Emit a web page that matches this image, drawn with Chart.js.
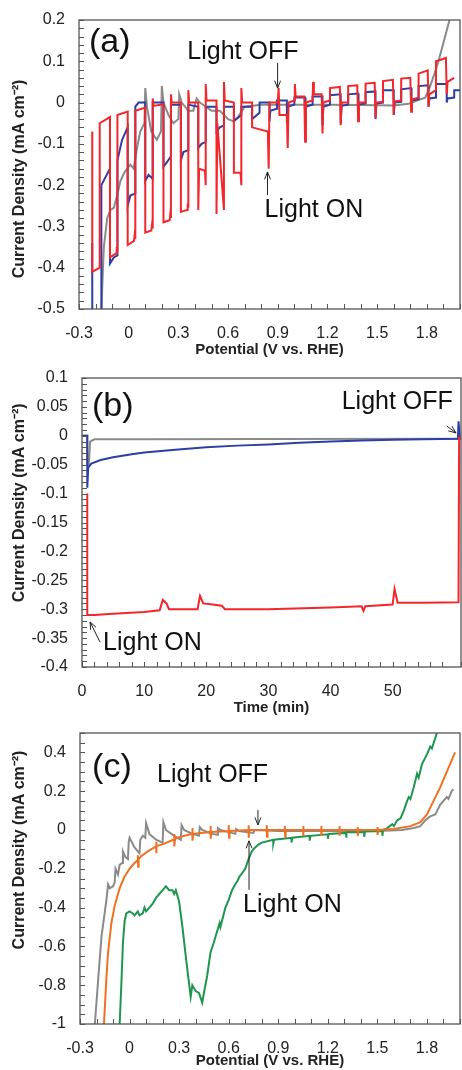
<!DOCTYPE html>
<html>
<head>
<meta charset="utf-8">
<script src="https://cdn.jsdelivr.net/npm/chart.js@4.4.0/dist/chart.umd.min.js"></script>
<style>
  body { margin: 0; background: #fff; width: 462px; height: 1070px; position: relative; overflow: hidden; }
  canvas { position: absolute; left: 0; }
</style>
</head>
<body>
<canvas id="chartA" width="462" height="359" style="top:0px"></canvas>
<canvas id="chartB" width="462" height="358" style="top:359px"></canvas>
<canvas id="chartC" width="462" height="352" style="top:718px"></canvas>
<script>
// ---- panel (a): chopped LSV, potential (V vs RHE) vs current density
var redA = [[-0.22,-0.07],[-0.22,-0.41],[-0.175,-0.40],[-0.175,-0.05],[-0.113,-0.035],
  [-0.113,-0.375],[-0.075,-0.365],[-0.072,-0.35],[-0.068,-0.36],[-0.068,-0.03],[-0.006,-0.022],
  [-0.006,-0.345],[0.032,-0.335],[0.036,-0.32],[0.04,-0.33],[0.04,-0.02],[0.10,-0.012],
  [0.10,-0.315],[0.137,-0.31],[0.141,-0.295],[0.145,-0.305],[0.145,0.01],[0.15,-0.008],[0.21,-0.004],
  [0.21,-0.29],[0.247,-0.285],[0.251,-0.27],[0.255,-0.28],[0.255,0.02],[0.26,0.0],[0.315,0.0],
  [0.315,-0.265],[0.352,-0.26],[0.356,-0.245],[0.36,-0.255],[0.36,0.03],[0.365,0.0],[0.42,0.0],
  [0.42,-0.26],[0.425,-0.16],[0.46,-0.165],[0.465,-0.2],[0.465,0.045],[0.47,0.005],[0.53,0.005],
  [0.53,-0.27],[0.535,-0.05],[0.575,-0.26],[0.575,0.05],[0.58,0.005],[0.635,0.0],
  [0.635,-0.17],[0.675,-0.17],[0.68,-0.2],[0.68,0.035],[0.685,0.0],[0.745,0.0],
  [0.745,-0.06],[0.84,-0.07],[0.845,-0.16],[0.85,0.0],[0.9,0.0],[0.905,0.035],[0.91,-0.03],[0.955,-0.03],
  [0.96,-0.11],[0.965,0.0],[1.0,0.005],[1.003,0.045],[1.008,0.015],[1.06,0.015],[1.065,-0.095],[1.07,0.0],
  [1.11,0.005],[1.113,0.05],[1.118,0.02],[1.165,0.02],[1.17,-0.075],[1.175,0.0],[1.215,0.005],[1.215,0.035],
  [1.275,0.038],[1.28,-0.055],[1.285,0.0],[1.325,0.0],[1.325,0.04],[1.38,0.042],[1.385,-0.045],[1.39,0.0],
  [1.43,0.0],[1.43,0.046],[1.485,0.048],[1.49,-0.037],[1.495,0.0],[1.535,0.002],[1.535,0.052],[1.595,0.055],
  [1.6,-0.03],[1.605,0.003],[1.645,0.005],[1.645,0.058],[1.7,0.06],[1.705,-0.022],[1.71,0.008],[1.75,0.012],
  [1.75,0.07],[1.805,0.078],[1.81,-0.01],[1.815,0.02],[1.855,0.03],[1.855,0.1],[1.915,0.108],[1.92,0.02],
  [1.925,0.05],[1.965,0.06]];
var blueA = [[-0.22,-0.34],[-0.22,-0.6],[-0.165,-0.6],[-0.165,-0.2],[-0.113,-0.16],
  [-0.113,-0.39],[-0.09,-0.375],[-0.068,-0.37],[-0.068,-0.14],[-0.04,-0.09],[-0.006,-0.06],
  [-0.006,-0.25],[0.01,-0.225],[0.04,-0.22],[0.04,-0.01],[0.06,0.0],[0.10,0.0],
  [0.10,-0.19],[0.12,-0.175],[0.145,-0.185],[0.145,0.0],[0.21,0.0],
  [0.21,-0.155],[0.23,-0.145],[0.255,-0.13],[0.255,-0.005],[0.315,-0.005],
  [0.315,-0.14],[0.33,-0.12],[0.36,-0.115],[0.36,-0.005],[0.42,-0.01],
  [0.42,-0.11],[0.44,-0.1],[0.465,-0.095],[0.465,-0.01],[0.53,-0.01],
  [0.53,-0.07],[0.55,-0.06],[0.575,-0.055],[0.575,-0.01],[0.635,-0.01],
  [0.635,-0.045],[0.68,-0.03],[0.68,-0.01],[0.745,-0.01],
  [0.745,-0.04],[0.79,-0.025],[0.79,0.0],[0.85,0.0],[0.85,-0.045],[0.855,-0.02],[0.895,-0.015],[0.895,0.005],
  [0.955,0.005],[0.955,-0.05],[0.96,-0.01],[1.0,-0.005],[1.0,0.012],[1.065,0.012],[1.065,-0.05],[1.07,-0.01],
  [1.11,-0.005],[1.11,0.015],[1.17,0.015],[1.17,-0.055],[1.175,-0.01],[1.215,-0.005],[1.215,0.018],[1.28,0.02],
  [1.28,-0.05],[1.285,-0.008],[1.325,-0.005],[1.325,0.02],[1.385,0.022],[1.385,-0.045],[1.39,-0.005],[1.43,-0.002],
  [1.43,0.025],[1.49,0.027],[1.49,-0.04],[1.495,-0.002],[1.535,0.0],[1.535,0.03],[1.6,0.03],[1.6,-0.03],
  [1.605,0.0],[1.645,0.002],[1.645,0.032],[1.705,0.035],[1.705,-0.02],[1.71,0.005],[1.75,0.008],[1.75,0.04],
  [1.81,0.042],[1.81,-0.01],[1.815,0.01],[1.855,0.012],[1.855,0.045],[1.92,0.045],[1.92,0.0],[1.925,0.01],
  [1.965,0.012],[1.965,0.03],[2.0,0.03]];
var greyA = [[-0.17,-0.6],[-0.16,-0.45],[-0.15,-0.35],[-0.13,-0.28],[-0.11,-0.26],[-0.09,-0.255],[-0.07,-0.225],
  [-0.05,-0.19],[-0.027,-0.17],[0.0,-0.155],[0.01,-0.15],[0.03,-0.16],[0.05,-0.11],[0.07,-0.07],[0.095,-0.05],
  [0.10,0.035],[0.11,-0.01],[0.136,-0.07],[0.17,-0.09],[0.195,-0.07],[0.20,0.04],[0.21,0.0],[0.24,-0.03],
  [0.27,-0.05],[0.30,-0.04],[0.305,0.02],[0.32,0.0],[0.36,-0.02],[0.39,-0.02],[0.41,0.01],[0.43,0.0],
  [0.5,-0.02],[0.55,-0.02],[0.6,-0.04],[0.63,-0.045],[0.66,-0.035],[0.7,-0.01],[0.8,-0.005],[1.0,-0.005],
  [1.2,-0.005],[1.4,-0.006],[1.6,-0.007],[1.69,-0.003],[1.74,0.005],[1.79,0.012],[1.82,0.04],[1.85,0.075],
  [1.87,0.1],[1.89,0.13],[1.91,0.16],[1.93,0.19],[1.95,0.22]];

// ---- panel (b): chronoamperometry, time (min) vs current density
var redB = [[0.85,-0.1],[0.85,-0.31],[2,-0.31],[5,-0.308],[10,-0.305],[12.5,-0.302],[13,-0.284],[13.6,-0.29],
  [14,-0.300],[18.6,-0.300],[19,-0.277],[19.5,-0.29],[21,-0.292],[22.5,-0.294],[23,-0.300],[30,-0.300],
  [40,-0.297],[45,-0.295],[45.3,-0.303],[45.6,-0.295],[50,-0.292],[50.3,-0.265],[50.8,-0.289],[55,-0.289],
  [60.6,-0.288],[60.7,-0.003],[61,-0.003]];
var blueB = [[0,0],[0.85,0],[0.85,-0.09],[1.0,-0.055],[1.5,-0.048],[3,-0.042],[5,-0.037],[8,-0.032],[10,-0.029],
  [15,-0.024],[20,-0.02],[25,-0.017],[30,-0.015],[35,-0.012],[40,-0.01],[45,-0.008],[50,-0.007],[55,-0.006],
  [60.5,-0.005],[60.6,0.025],[60.8,0.0],[61,-0.002]];
var greyB = [[0,0],[0.85,0],[0.85,-0.05],[1.1,-0.05],[1.3,-0.01],[2,-0.006],[10,-0.006],[30,-0.0055],[61,-0.005]];

// ---- panel (c): chopped LSV, second set
var orangeC = [[-0.155,-1.0],[-0.14,-0.76],[-0.13,-0.63],[-0.11,-0.48],[-0.09,-0.39],[-0.06,-0.30],[-0.03,-0.24],
  [0.0,-0.2],[0.03,-0.17],[0.05,-0.155],[0.05,-0.13],[0.052,-0.19],[0.055,-0.15],[0.07,-0.135],[0.11,-0.11],
  [0.16,-0.085],[0.16,-0.06],[0.162,-0.12],[0.165,-0.083],[0.21,-0.07],[0.27,-0.048],[0.27,-0.02],[0.272,-0.085],
  [0.275,-0.046],[0.31,-0.035],[0.38,-0.02],[0.38,0.01],[0.382,-0.055],[0.385,-0.02],[0.49,-0.01],[0.49,0.02],
  [0.492,-0.045],[0.495,-0.01],[0.6,-0.005],[0.6,0.025],[0.602,-0.04],[0.605,-0.005],[0.72,0.0],[0.72,0.025],
  [0.722,-0.04],[0.725,0.0],[0.83,0.0],[0.83,0.025],[0.832,-0.035],[0.835,0.0],[0.94,0.0],[0.94,0.02],
  [0.942,-0.035],[0.945,0.0],[1.05,0.0],[1.05,0.02],[1.052,-0.03],[1.055,0.0],[1.16,0.0],[1.16,0.02],
  [1.162,-0.03],[1.165,0.0],[1.27,0.0],[1.27,0.02],[1.272,-0.03],[1.275,0.0],[1.38,0.0],[1.38,0.015],
  [1.382,-0.03],[1.385,0.0],[1.5,0.0],[1.5,0.015],[1.502,-0.025],[1.505,0.0],[1.6,0.005],[1.7,0.02],
  [1.76,0.04],[1.8,0.08],[1.84,0.15],[1.88,0.22],[1.92,0.3],[1.96,0.38],[1.97,0.4]];
var greenC = [[-0.06,-1.0],[-0.05,-0.8],[-0.04,-0.58],[-0.03,-0.47],[-0.02,-0.43],[0.0,-0.42],[0.02,-0.43],
  [0.03,-0.44],[0.05,-0.42],[0.06,-0.44],[0.08,-0.43],[0.09,-0.40],[0.10,-0.42],[0.12,-0.40],[0.14,-0.38],
  [0.16,-0.35],[0.18,-0.33],[0.20,-0.31],[0.22,-0.29],[0.24,-0.31],[0.26,-0.31],[0.27,-0.33],[0.28,-0.31],
  [0.30,-0.37],[0.32,-0.5],[0.34,-0.65],[0.36,-0.79],[0.37,-0.86],[0.38,-0.80],[0.40,-0.83],[0.42,-0.84],
  [0.44,-0.89],[0.45,-0.84],[0.47,-0.75],[0.49,-0.63],[0.51,-0.58],[0.52,-0.55],[0.545,-0.48],[0.55,-0.5],
  [0.58,-0.40],[0.60,-0.36],[0.62,-0.31],[0.64,-0.28],[0.655,-0.26],[0.665,-0.24],[0.675,-0.23],[0.7,-0.2],
  [0.72,-0.15],[0.74,-0.11],[0.76,-0.09],[0.78,-0.075],[0.8,-0.065],[0.87,-0.05],[0.87,-0.07],[0.875,-0.05],
  [0.98,-0.04],[0.98,-0.065],[0.985,-0.04],[1.09,-0.03],[1.09,-0.055],[1.095,-0.03],[1.2,-0.022],[1.2,-0.045],
  [1.205,-0.02],[1.31,-0.015],[1.31,-0.04],[1.315,-0.012],[1.42,-0.01],[1.42,-0.035],[1.425,-0.008],
  [1.53,-0.005],[1.53,-0.03],[1.535,0.0],[1.56,0.01],[1.59,0.03],[1.6,0.02],[1.62,0.05],[1.64,0.06],
  [1.66,0.1],[1.68,0.15],[1.69,0.17],[1.7,0.16],[1.72,0.22],[1.74,0.29],[1.75,0.27],[1.77,0.34],[1.80,0.39],
  [1.82,0.43],[1.83,0.42],[1.86,0.5],[1.87,0.55]];
var greyC = [[-0.21,-1.0],[-0.19,-0.77],[-0.17,-0.55],[-0.14,-0.36],[-0.13,-0.28],[-0.12,-0.30],[-0.10,-0.29],
  [-0.09,-0.27],[-0.085,-0.20],[-0.07,-0.23],[-0.06,-0.18],[-0.045,-0.17],[-0.04,-0.11],[-0.025,-0.14],
  [-0.01,-0.15],[-0.005,-0.06],[0.0,-0.04],[0.03,-0.09],[0.06,-0.12],[0.065,-0.05],[0.08,-0.03],[0.095,-0.04],
  [0.10,0.035],[0.12,-0.02],[0.16,-0.05],[0.2,-0.065],[0.205,0.04],[0.22,0.0],[0.27,-0.03],[0.31,-0.05],
  [0.315,0.025],[0.33,0.0],[0.38,-0.02],[0.42,-0.03],[0.425,0.015],[0.44,0.0],[0.5,-0.02],[0.53,-0.025],
  [0.535,0.01],[0.55,0.0],[0.64,-0.02],[0.645,0.005],[0.66,-0.005],[0.75,-0.015],[0.755,0.0],[0.9,-0.005],
  [1.2,-0.005],[1.5,-0.005],[1.65,0.0],[1.72,0.01],[1.76,0.02],[1.79,0.05],[1.82,0.07],[1.85,0.08],
  [1.88,0.13],[1.9,0.15],[1.92,0.17],[1.93,0.16],[1.95,0.2],[1.96,0.21]];

// annotation text and arrows, in data coordinates
var notesA = [{text: '(a)', x: -0.24, y: 0.144, size: 34}, {text: 'Light OFF', x: 0.354, y: 0.123, size: 25},
  {text: 'Light ON', x: 0.82, y: -0.26, size: 25}];
var arrowsA = [[0.899, 0.096, 0.899, 0.035], [0.838, -0.224, 0.838, -0.168]];
var notesB = [{text: '(b)', x: 1.6, y: 0.05, size: 34}, {text: 'Light OFF', x: 41.8, y: 0.0585, size: 25},
  {text: 'Light ON', x: 3.4, y: -0.359, size: 25}];
var arrowsB = [[58.7, 0.017, 60.2, 0.005], [2.9, -0.357, 1.3, -0.322]];
var notesC = [{text: '(c)', x: -0.227, y: 0.323, size: 34}, {text: 'Light OFF', x: 0.166, y: 0.282, size: 25},
  {text: 'Light ON', x: 0.687, y: -0.385, size: 25}];
var arrowsC = [[0.777, 0.103, 0.777, 0.026], [0.723, -0.308, 0.723, -0.056]];

var Y_TITLE = 'Current Density (mA cm\u207B\u00B2)';
var FONT = "'Liberation Sans', Arial, sans-serif";
var INK = '#222';

function toXY(list) {
  return list.map(function (p) { return {x: p[0], y: p[1]}; });
}

function majorLabel(step) {
  return function (v) {
    var q = v / step;
    if (Math.abs(q - Math.round(q)) > 1e-6) return '';
    return String(Math.round(v * 1000) / 1000);
  };
}

// frame, inward tick marks, y title, panel letters and arrows
var panelDeco = {
  id: 'panelDeco',
  afterDatasetsDraw: function (chart, args, opts) {
    var ctx = chart.ctx, a = chart.chartArea, x = chart.scales.x, y = chart.scales.y;
    ctx.save();
    ctx.strokeStyle = '#555';
    ctx.lineWidth = 1.3;
    ctx.strokeRect(a.left, a.top, a.right - a.left, a.bottom - a.top);
    ctx.lineWidth = 1;
    ctx.beginPath();
    x.ticks.forEach(function (t) {
      var px = Math.round(x.getPixelForValue(t.value)) + 0.5;
      ctx.moveTo(px, a.bottom); ctx.lineTo(px, a.bottom - 5);
    });
    y.ticks.forEach(function (t) {
      var py = Math.round(y.getPixelForValue(t.value)) + 0.5;
      ctx.moveTo(a.left, py); ctx.lineTo(a.left + 5, py);
    });
    ctx.stroke();

    ctx.fillStyle = INK;
    ctx.font = 'bold 16px ' + FONT;
    ctx.textAlign = 'center';
    ctx.textBaseline = 'middle';
    ctx.save();
    ctx.translate(20, y.getPixelForValue(opts.titleAt));
    ctx.rotate(-Math.PI / 2);
    ctx.fillText(Y_TITLE, 0, 0);
    ctx.restore();

    ctx.fillStyle = '#111';
    ctx.textAlign = 'left';
    opts.notes.forEach(function (n) {
      ctx.font = n.size + 'px ' + FONT;
      ctx.fillText(n.text, x.getPixelForValue(n.x), y.getPixelForValue(n.y));
    });

    ctx.strokeStyle = '#222';
    ctx.lineWidth = 1;
    opts.arrows.forEach(function (ar) {
      var x1 = x.getPixelForValue(ar[0]), y1 = y.getPixelForValue(ar[1]);
      var x2 = x.getPixelForValue(ar[2]), y2 = y.getPixelForValue(ar[3]);
      var ang = Math.atan2(y2 - y1, x2 - x1);
      ctx.beginPath();
      ctx.moveTo(x1, y1); ctx.lineTo(x2, y2);
      ctx.moveTo(x2 - 8 * Math.cos(ang - 0.38), y2 - 8 * Math.sin(ang - 0.38));
      ctx.lineTo(x2, y2);
      ctx.lineTo(x2 - 8 * Math.cos(ang + 0.38), y2 - 8 * Math.sin(ang + 0.38));
      ctx.stroke();
    });
    ctx.restore();
  }
};

function makePanel(id, cfg) {
  var ds = cfg.series.map(function (s) {
    return {data: toXY(s.data), borderColor: s.color, borderWidth: 2, pointRadius: 0,
      tension: 0, fill: false};
  });
  return new Chart(document.getElementById(id), {
    type: 'line',
    data: {datasets: ds},
    plugins: [panelDeco],
    options: {
      responsive: false,
      animation: false,
      parsing: false,
      layout: {padding: cfg.pad},
      plugins: {legend: {display: false}, tooltip: {enabled: false},
        panelDeco: {notes: cfg.notes, arrows: cfg.arrows, titleAt: cfg.titleAt}},
      scales: {
        x: {
          type: 'linear', min: cfg.xMin, max: cfg.xMax,
          grid: {display: false, drawTicks: false},
          border: {display: false},
          ticks: {stepSize: cfg.xStep, autoSkip: false, maxRotation: 0, padding: 15, color: INK,
            font: {family: FONT, size: 16}, callback: majorLabel(cfg.xMajor)},
          title: {display: true, text: cfg.xTitle, color: INK, padding: 0,
            font: {family: FONT, size: 15, weight: 'bold'}},
          afterFit: function (s) { s.height = cfg.xH; s.paddingLeft = 0; s.paddingRight = 0; }
        },
        y: {
          type: 'linear', min: cfg.yMin, max: cfg.yMax,
          grid: {display: false, drawTicks: false},
          border: {display: false},
          ticks: {stepSize: cfg.yStep, autoSkip: false, padding: 14, color: INK,
            font: {family: FONT, size: 16}, callback: majorLabel(cfg.yMajor)},
          afterFit: function (s) { s.width = cfg.yW; s.paddingTop = 0; s.paddingBottom = 0; }
        }
      }
    }
  });
}

makePanel('chartA', {
  series: [{data: redA, color: '#f2262b'}, {data: blueA, color: '#2b3fa6'}, {data: greyA, color: '#8a8a8a'}],
  xMin: -0.3, xMax: 2.0, xStep: 0.1, xMajor: 0.3, xTitle: 'Potential (V vs. RHE)',
  yMin: -0.5, yMax: 0.2, yStep: 0.02, yMajor: 0.1, titleAt: -0.185,
  pad: {top: 20, right: 2, left: 11, bottom: 0}, yW: 68, xH: 50,
  notes: notesA, arrows: arrowsA
});

makePanel('chartB', {
  series: [{data: redB, color: '#f2262b'}, {data: blueB, color: '#2b3fa6'}, {data: greyB, color: '#8a8a8a'}],
  xMin: 0, xMax: 61, xStep: 2, xMajor: 10, xTitle: 'Time (min)',
  yMin: -0.4, yMax: 0.1, yStep: 0.01, yMajor: 0.05, titleAt: -0.116,
  pad: {top: 19, right: 1, left: 11, bottom: 0}, yW: 71, xH: 50,
  notes: notesB, arrows: arrowsB
});

makePanel('chartC', {
  series: [{data: orangeC, color: '#f07022'}, {data: greenC, color: '#1e9650'}, {data: greyC, color: '#8a8a8a'}],
  xMin: -0.3, xMax: 2.0, xStep: 0.1, xMajor: 0.3, xTitle: 'Potential (V vs. RHE)',
  yMin: -1, yMax: 0.5, yStep: 0.05, yMajor: 0.2, titleAt: -0.103,
  pad: {top: 15, right: 2, left: 11, bottom: 0}, yW: 69, xH: 46,
  notes: notesC, arrows: arrowsC
});
</script>
</body>
</html>
